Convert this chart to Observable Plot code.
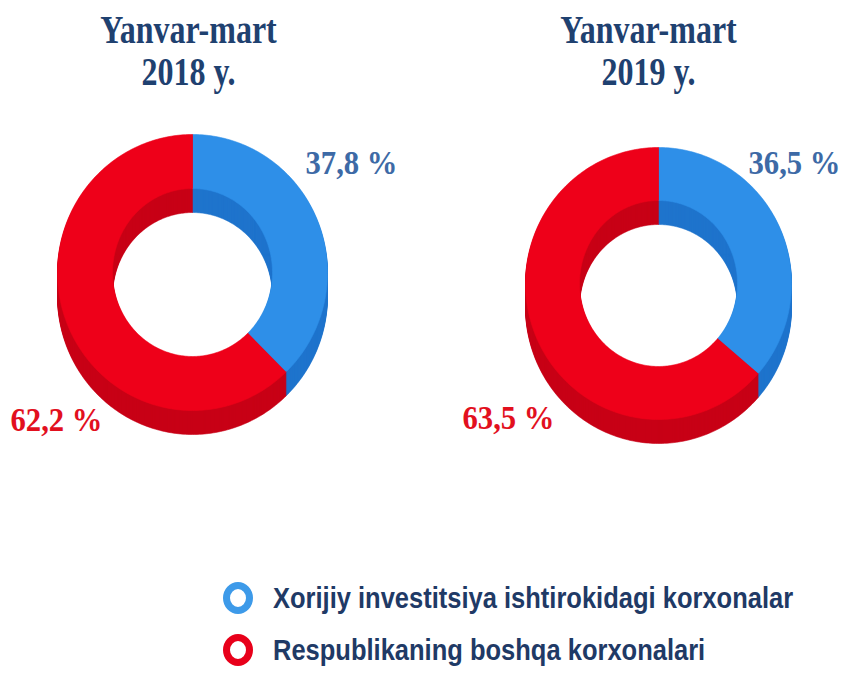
<!DOCTYPE html>
<html>
<head>
<meta charset="utf-8">
<script src="https://cdn.jsdelivr.net/npm/d3@7"></script>
<script src="https://cdn.jsdelivr.net/npm/@observablehq/plot@0.6"></script>
<style>
  html, body { margin: 0; padding: 0; background: #ffffff; }
  #chart { width: 844px; }
  .legend { padding-left: 223px; margin-top: 12px; }
  .legend .row { display: flex; align-items: center; height: 52px; }
  .legend .ring { box-sizing: content-box; width: 16px; height: 18px; border: 7px solid; border-radius: 50%; flex: none; }
  .legend .lbl { margin-left: 20px; font-family: "Liberation Sans", Arial, sans-serif; font-weight: bold;
                 font-size: 30px; color: #1f3a66; white-space: nowrap; transform: scaleX(0.85); transform-origin: left center; }
</style>
</head>
<body>
<div id="chart"></div>
<script>
// ---- data ----
const periods = ["Yanvar-mart", "Yanvar-mart"];
const years = ["2018 y.", "2019 y."];
const categories = ["Xorijiy investitsiya ishtirokidagi korxonalar", "Respublikaning boshqa korxonalari"];
const foreignShare = [37.8, 36.5];
const otherShare = [62.2, 63.5];

// ---- styling / layout ----
const topColors = ["#2e8fe8", "#ee0019"];
const sideColors = ["#1f74cc", "#c80016"];
const labelColors = ["#3d6aa6", "#e2101e"];
const legendColors = ["#3d9ae9", "#e8001a"];
const W = 844, H = 560, depth = 24;
const panels = [
  {cx: 192, cy: 272, rx: 135, ry: 138, irx: 80, iry: 84, tx: 188, lab: [[351, 173], [56, 430]]},
  {cx: 658, cy: 283, rx: 133, ry: 136, irx: 79, iry: 83, tx: 648, lab: [[794, 173], [508, 428]]}
];
const titleSize = 40, pctSize = 33;

const fmt = v => v.toFixed(1).replace(".", ",") + " %";

// build slice polygons from shares
function slicePolygon(p, a0, a1, off, id, color, out) {
  const n = Math.max(2, Math.ceil(a1 - a0));
  const rad = d => d * Math.PI / 180;
  for (let i = 0; i <= n; i++) {
    const a = rad(a0 + (a1 - a0) * i / n);
    out.push({id, color, x: p.cx + p.rx * Math.sin(a), y: p.cy - p.ry * Math.cos(a) + off});
  }
  for (let i = n; i >= 0; i--) {
    const a = rad(a0 + (a1 - a0) * i / n);
    out.push({id, color, x: p.cx + p.irx * Math.sin(a), y: p.cy - p.iry * Math.cos(a) + off});
  }
}

const sideRows = [], topRows = [];
panels.forEach((p, pi) => {
  const shares = [foreignShare[pi], otherShare[pi]];
  const total = shares[0] + shares[1];
  let acc = 0;
  const spans = shares.map(s => { const a0 = acc / total * 360; acc += s; return [a0, acc / total * 360]; });
  for (let off = depth; off >= 1; off -= 1) {
    spans.forEach(([a0, a1], si) => slicePolygon(p, a0, a1, off, `s${pi}-${si}-${off}`, sideColors[si], sideRows));
  }
  spans.forEach(([a0, a1], si) => slicePolygon(p, a0, a1, 0, `t${pi}-${si}`, topColors[si], topRows));
});

const titles = panels.map((p, i) => ({x: p.tx, y: 42 - 0.71 * titleSize, text: `${periods[i]}\n${years[i]}`}));
const pctLabels = [];
panels.forEach((p, i) => {
  [foreignShare[i], otherShare[i]].forEach((v, si) => {
    pctLabels.push({x: p.lab[si][0], y: p.lab[si][1] - 0.71 * pctSize, text: fmt(v), color: labelColors[si]});
  });
});

const svg = Plot.plot({
  width: W, height: H,
  margin: 0,
  x: {domain: [0, W], range: [0, W], axis: null},
  y: {domain: [0, H], range: [0, H], axis: null},
  color: {type: "identity"},
  marks: [
    Plot.line(sideRows, {x: "x", y: "y", z: "id", fill: "color", stroke: "color", strokeWidth: 0.6, curve: "linear"}),
    Plot.line(topRows, {x: "x", y: "y", z: "id", fill: "color", stroke: "color", strokeWidth: 0.6, curve: "linear"}),
    Plot.text(titles, {x: "x", y: "y", text: "text", lineAnchor: "top", lineHeight: 1.03,
      fontFamily: "Liberation Serif, Times New Roman, serif", fontWeight: "bold", fontSize: titleSize,
      fill: "#1f4170"}),
    Plot.text(pctLabels, {x: "x", y: "y", text: "text", lineAnchor: "top",
      fontFamily: "Liberation Serif, Times New Roman, serif", fontWeight: "bold", fontSize: pctSize,
      fill: "color"})
  ]
});
document.getElementById("chart").appendChild(svg);

// condense serif texts horizontally (Times-like condensed face in the reference)
const textGroups = svg.querySelectorAll('g[aria-label="text"]');
function condense(group, s) {
  if (!group) return;
  group.querySelectorAll("text").forEach(t => {
    const tr = t.getAttribute("transform");
    if (tr) t.setAttribute("transform", tr + ` scale(${s},1)`);
    else { t.style.transformBox = "fill-box"; t.style.transformOrigin = "center"; t.style.transform = `scaleX(${s})`; }
  });
}
condense(textGroups[0], 0.8);
condense(textGroups[1], 0.93);

// legend
const legend = document.createElement("div");
legend.className = "legend";
categories.forEach((c, i) => {
  const row = document.createElement("div");
  row.className = "row";
  const ring = document.createElement("div");
  ring.className = "ring";
  ring.style.borderColor = legendColors[i];
  const lbl = document.createElement("span");
  lbl.className = "lbl";
  lbl.textContent = c;
  row.appendChild(ring); row.appendChild(lbl);
  legend.appendChild(row);
});
document.getElementById("chart").appendChild(legend);
</script>
</body>
</html>
